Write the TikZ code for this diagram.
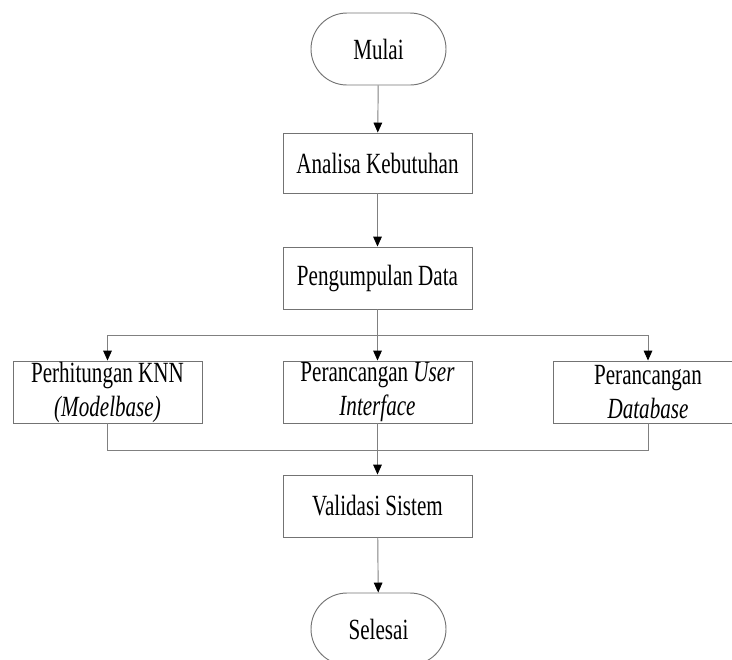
\documentclass[tikz,border=0pt]{standalone}
\usepackage{fontspec}
\setmainfont{Liberation Serif}[FakeStretch=0.72]
\usetikzlibrary{arrows.meta}
\usetikzlibrary{shapes.misc}

\tikzset{
	proses/.style={draw=black!55,line width=0.8pt,minimum width=189*0.03cm,minimum height=62*0.03cm,align=center,inner sep=0pt,font=\fontsize{25}{29}\selectfont},
	terminal/.style={draw=black!55,line width=0.8pt,rounded rectangle,minimum width=135*0.03cm,minimum height=72*0.03cm,inner sep=0pt,font=\fontsize{25}{29}\selectfont},
	alur/.style={draw=black!50,line width=0.8pt,-{Triangle[length=3mm,width=2.6mm,color=black]}},
	garis/.style={draw=black!50,line width=0.8pt}
}

\begin{document}
\begin{tikzpicture}[x=0.03cm,y=-0.03cm]
	\clip (0,0) rectangle (732,659);
\node[terminal] (mulai) at (378.5,49) {Mulai};
\node[proses,minimum height=60*0.03cm] (analisa) at (377.5,163) {Analisa Kebutuhan};
\node[proses] (kumpul) at (377.5,278) {Pengumpulan Data};
\node[proses] (knn) at (107.5,392) {Perhitungan KNN\\\textit{(Modelbase)}};
\node[proses] (ui) at (377.5,392) {Perancangan \textit{User}\\\textit{Interface}};
\node[proses] (db) at (648,392) {Perancangan\\\textit{Database}};
\node[proses] (validasi) at (377.5,506) {Validasi Sistem};
\node[terminal] (selesai) at (378.5,629) {Selesai};
	\coordinate (cabang) at (377.5,335);
	\coordinate (gabung) at (377.5,450);
	% alur utama
	\draw[alur] (mulai) -- (analisa);
	\draw[alur] (analisa) -- (kumpul);
	\draw[alur] (kumpul) -- (ui);
	\draw[alur] (cabang) -| (knn);
	\draw[alur] (cabang) -| (db);
	\draw[garis] (knn) |- (gabung);
	\draw[garis] (db) |- (gabung);
	\draw[alur] (ui) -- (validasi);
	\draw[alur] (validasi) -- (selesai);
	\end{tikzpicture}
\end{document}
